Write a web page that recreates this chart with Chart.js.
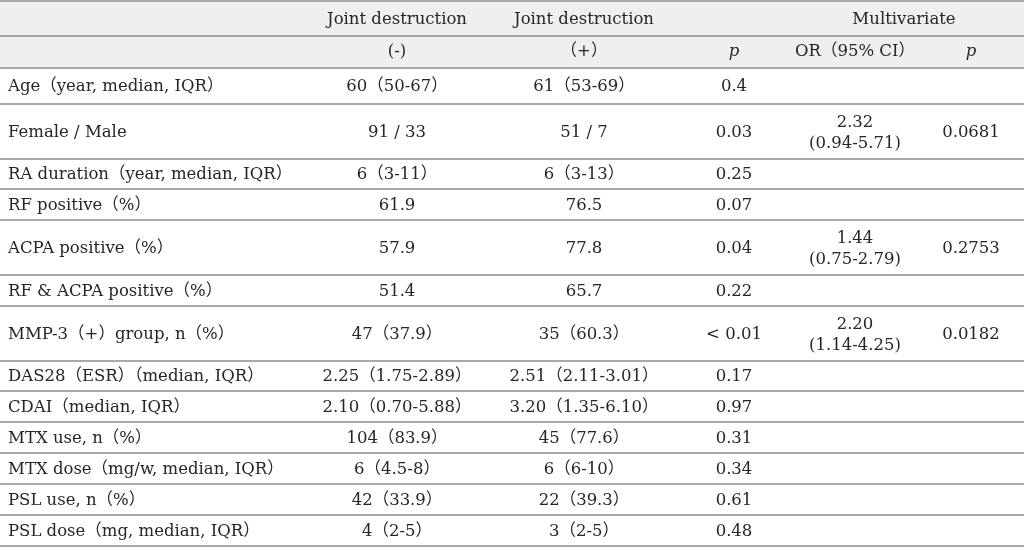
<!DOCTYPE html>
<html lang="en">
<head>
    <meta charset="UTF-8">
    <title>Joint destruction table</title>
    <script src="https://cdn.jsdelivr.net/npm/chart.js"></script>
    <style>
        html, body { margin: 0; padding: 0; background: #fff; }
        #wrap { width: 1024px; height: 555px; }
    </style>
</head>
<body>
    <div id="wrap"><canvas id="tableChart" width="1024" height="555"></canvas></div>
    <script>
        // table content
        const headerTop = ['', 'Joint destruction', 'Joint destruction', '', 'Multivariate'];
        const headerSub = ['', '(-)', '（+）', 'p', 'OR（95% CI）', 'p'];

        const rowLabels = [
            'Age（year, median, IQR）',
            'Female / Male',
            'RA duration（year, median, IQR）',
            'RF positive（%）',
            'ACPA positive（%）',
            'RF & ACPA positive（%）',
            'MMP-3（+）group, n（%）',
            'DAS28（ESR）（median, IQR）',
            'CDAI（median, IQR）',
            'MTX use, n（%）',
            'MTX dose（mg/w, median, IQR）',
            'PSL use, n（%）',
            'PSL dose（mg, median, IQR）'
        ];
        const destructionNeg = ['60（50-67）', '91 / 33', '6（3-11）', '61.9', '57.9', '51.4', '47（37.9）',
            '2.25（1.75-2.89）', '2.10（0.70-5.88）', '104（83.9）', '6（4.5-8）', '42（33.9）', '4（2-5）'];
        const destructionPos = ['61（53-69）', '51 / 7', '6（3-13）', '76.5', '77.8', '65.7', '35（60.3）',
            '2.51（2.11-3.01）', '3.20（1.35-6.10）', '45（77.6）', '6（6-10）', '22（39.3）', '3（2-5）'];
        const univariateP = ['0.4', '0.03', '0.25', '0.07', '0.04', '0.22', '< 0.01',
            '0.17', '0.97', '0.31', '0.34', '0.61', '0.48'];
        const oddsRatio = ['', '2.32', '', '', '1.44', '', '2.20', '', '', '', '', '', ''];
        const oddsCI = ['', '(0.94-5.71)', '', '', '(0.75-2.79)', '', '(1.14-4.25)', '', '', '', '', '', ''];
        const multivariateP = ['', '0.0681', '', '', '0.2753', '', '0.0182', '', '', '', '', '', ''];

        // layout (in scale units, one unit = one px of the table)
        const colX = [8, 397, 584, 734, 855, 971];
        const multiX = 904;
        const headerH = [36, 32];
        const bodyRowH = [36, 55, 30, 31, 55, 31, 55, 30, 31, 31, 31, 31, 31];
        const textColor = '#262626';
        const ruleColor = '#8c8c8c';
        const headBg = '#efefef';
        const font = '"DejaVu Serif", "Noto Sans CJK JP", serif';

        const tablePlugin = {
            id: 'tableDraw',
            beforeDatasetsDraw(chart) {
                const ctx = chart.ctx;
                const xs = chart.scales.x, ys = chart.scales.y;
                const px = v => xs.getPixelForValue(v);
                const py = v => ys.getPixelForValue(v);
                const left = px(0), right = px(1024);

                let y = 1;
                const headBottom = y + headerH[0] + headerH[1] - 1;
                ctx.save();
                ctx.fillStyle = headBg;
                ctx.fillRect(left, py(y), right - left, py(headBottom) - py(y));

                function rule(v) {
                    ctx.strokeStyle = ruleColor;
                    ctx.lineWidth = 1.5;
                    ctx.beginPath();
                    ctx.moveTo(left, py(v));
                    ctx.lineTo(right, py(v));
                    ctx.stroke();
                }
                function text(str, x, yv, align, italic) {
                    if (!str) return;
                    ctx.fillStyle = textColor;
                    ctx.font = (italic ? 'italic ' : '') + '16.5px ' + font;
                    ctx.textAlign = align || 'center';
                    ctx.textBaseline = 'middle';
                    ctx.fillText(str, px(x), py(yv));
                }

                rule(y);
                // header row 1
                let mid = y + headerH[0] / 2 + 1;
                text(headerTop[1], colX[1], mid);
                text(headerTop[2], colX[2], mid);
                text(headerTop[4], multiX, mid);
                y += headerH[0] - 1;
                rule(y);
                // header row 2
                mid = y + headerH[1] / 2;
                for (let c = 1; c < headerSub.length; c++) {
                    text(headerSub[c], colX[c], mid, 'center', headerSub[c] === 'p');
                }
                y += headerH[1];
                rule(y);

                // body
                for (let r = 0; r < rowLabels.length; r++) {
                    const h = bodyRowH[r];
                    const m = y + h / 2 + 1;
                    text(rowLabels[r], colX[0], m, 'left');
                    text(destructionNeg[r], colX[1], m);
                    text(destructionPos[r], colX[2], m);
                    text(univariateP[r], colX[3], m);
                    if (oddsRatio[r]) {
                        text(oddsRatio[r], colX[4], m - 10);
                        text(oddsCI[r], colX[4], m + 11);
                    }
                    text(multivariateP[r], colX[5], m);
                    y += h;
                    rule(y);
                }
                ctx.restore();
            }
        };

        new Chart(document.getElementById('tableChart'), {
            type: 'scatter',
            data: { datasets: [] },
            options: {
                responsive: false,
                animation: false,
                layout: { padding: 0 },
                plugins: { legend: { display: false }, tooltip: { enabled: false } },
                scales: {
                    x: { type: 'linear', min: 0, max: 1024, display: false },
                    y: { type: 'linear', min: 0, max: 555, reverse: true, display: false }
                }
            },
            plugins: [tablePlugin]
        });
    </script>
</body>
</html>
